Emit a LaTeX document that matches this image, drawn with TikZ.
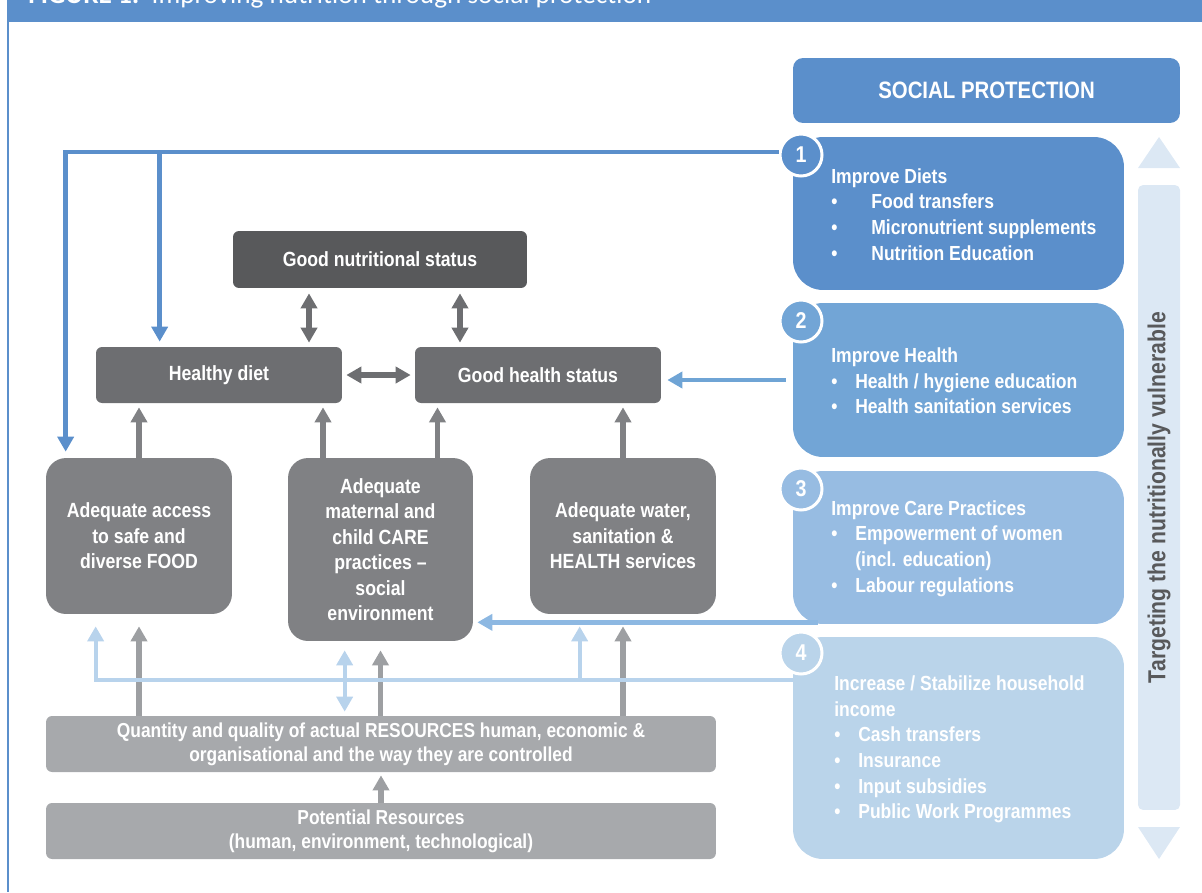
\documentclass[tikz,border=0pt]{standalone}
\usepackage{fontspec}
\setmainfont{Liberation Sans}[FakeStretch=0.86]
\newfontfamily\titlefont{Carlito}
\usepackage{tikz}
\usetikzlibrary{calc, arrows, arrows.meta, positioning}

\definecolor{spblue}{RGB}{91,143,203}
\definecolor{spblueb}{RGB}{114,165,214}
\definecolor{spbluec}{RGB}{151,188,226}
\definecolor{spblued}{RGB}{186,212,234}
\definecolor{sptarget}{RGB}{220,232,244}
\definecolor{lineb}{RGB}{111,164,213}
\definecolor{linec}{RGB}{141,184,226}
\definecolor{lined}{RGB}{184,211,236}
\definecolor{gdark}{RGB}{88,89,91}
\definecolor{gmid}{RGB}{109,110,113}
\definecolor{gbox}{RGB}{128,129,132}
\definecolor{glight}{RGB}{167,169,172}
\definecolor{garrow}{RGB}{157,159,162}

\newcommand{\spitem}[2]{\makebox[#1][l]{\textbullet}#2}

\begin{document}
\begin{tikzpicture}[x=0.02cm, y=-0.02cm,
    box/.style={rounded corners=0.12cm, text=white, align=center,
      font=\bfseries\fontsize{11.7}{14.5}\selectfont},
    bigbox/.style={box, fill=gbox, rounded corners=0.4cm, minimum width=3.72cm},
    resbox/.style={box, fill=glight, minimum width=13.4cm, minimum height=1.12cm,
      font=\bfseries\fontsize{11.5}{13.5}\selectfont},
    spbox/.style={rounded corners=0.6cm, minimum width=6.62cm},
    sptext/.style={anchor=west, inner sep=0, text=white, align=left,
      font=\bfseries\fontsize{11.6}{14.6}\selectfont},
    spnum/.style={circle, draw=white, line width=0.06cm, minimum size=0.84cm,
      inner sep=0, text=white, font=\bfseries\fontsize{13}{13}\selectfont},
    darr/.style={draw=gmid, line width=0.12cm,
      {Triangle[width=0.32cm,length=0.3cm]}-{Triangle[width=0.32cm,length=0.3cm]}},
    garr/.style={draw=gbox, line width=0.11cm, -{Triangle[width=0.32cm,length=0.3cm]}},
    rarr/.style={garr, draw=garrow},
    barr/.style={line width=0.09cm, -{Triangle[width=0.32cm,length=0.3cm]}},
    ]
  \useasboundingbox (0,0) rectangle (1202,892);
  % title bar
  \fill[spblue] (8,0) rectangle (1202,22);
  \draw[spblue, line width=0.05cm] (8,0) -- (8,892);
  \node[anchor=base west, inner sep=0, text=white, font=\titlefont\fontsize{15.5}{15.5}\selectfont]
    (title) at (28,4) {\textbf{FIGURE 1:}\ \ Improving nutrition through social protection};

  % nutrition status and its causes
  \node[box, fill=gdark, minimum width=5.88cm, minimum height=1.14cm] (gns) at (380,259.5) {Good nutritional status};
  \node[box, fill=gmid, minimum width=4.92cm, minimum height=1.12cm] (diet) at (219,375) {Healthy diet};
  \node[box, fill=gmid, minimum width=4.92cm, minimum height=1.12cm] (health) at (538,375) {Good health status};
  \node[bigbox, minimum height=3.12cm] (food) at (139,536) {Adequate access\\to safe and\\diverse FOOD};
  \node[bigbox, minimum width=3.7cm, minimum height=3.66cm] (care) at (380.5,549.5) {Adequate\\maternal and\\child CARE\\practices --\\social\\environment};
  \node[bigbox, minimum height=3.12cm] (water) at (623,536) {Adequate water,\\sanitation \&\\HEALTH services};
  \node[resbox] (res) at (381,744) {Quantity and quality of actual RESOURCES human, economic \&\\organisational and the way they are controlled};
  \node[resbox] (pot) at (381,831) {Potential Resources\\(human, environment, technological)};

  % social protection column
  \node[fill=spblue, rounded corners=0.2cm, minimum width=7.74cm, minimum height=1.3cm,
    text=white, font=\bfseries\fontsize{13.5}{13.5}\selectfont] (sp) at (986.5,90.5) {SOCIAL PROTECTION};
  \node[spbox, fill=spblue, minimum height=3.06cm] (sp1) at (958.5,213.5) {};
  \node[spbox, fill=spblueb, minimum height=3.08cm] (sp2) at (958.5,380) {};
  \node[spbox, fill=spbluec, minimum height=3.06cm] (sp3) at (958.5,547.5) {};
  \node[spbox, fill=spblued, minimum height=4.44cm] (sp4) at (958.5,748) {};
  \node[sptext] (spt1) at (831,214.5) {Improve Diets\\
    \spitem{0.8cm}{Food transfers}\\
    \spitem{0.8cm}{Micronutrient supplements}\\
    \spitem{0.8cm}{Nutrition Education}};
  \node[sptext] (spt2) at (831,381) {Improve Health\\
    \spitem{0.48cm}{Health / hygiene education}\\
    \spitem{0.48cm}{Health sanitation services}};
  \node[sptext] (spt3) at (831,548.5) {Improve Care Practices\\
    \spitem{0.48cm}{Empowerment of women}\\
    \hspace*{0.48cm}(incl. education)\\
    \spitem{0.48cm}{Labour regulations}};
  \node[sptext] (spt4) at (834,749.5) {Increase / Stabilize household\\
    income\\
    \spitem{0.48cm}{Cash transfers}\\
    \spitem{0.48cm}{Insurance}\\
    \spitem{0.48cm}{Input subsidies}\\
    \spitem{0.48cm}{Public Work Programmes}};
  \node[spnum, fill=spblue] (c1) at (801,155) {1};
  \node[spnum, fill=spblueb] (c2) at (801,321) {2};
  \node[spnum, fill=spbluec] (c3) at (801,489) {3};
  \node[spnum, fill=spblued] (c4) at (801,653) {4};

  % targeting bar
  \fill[sptarget] (1138,168) -- (1180,168) -- (1159,137) -- cycle;
  \node[fill=sptarget, rounded corners=0.1cm, rotate=90, minimum width=12.5cm, minimum height=0.84cm,
    text=gdark, font=\bfseries\fontsize{14}{14}\selectfont] (target) at (1159,497.5) {Targeting the nutritionally vulnerable};
  \fill[sptarget] (1138,827) -- (1180,827) -- (1159,859) -- cycle;

  % two-way links
  \draw[darr, shorten <=0.1cm, shorten >=0.08cm] ([xshift=-1.42cm]gns.south) -- ([xshift=-1.42cm]gns.south |- diet.north);
  \draw[darr, shorten <=0.1cm, shorten >=0.08cm] ([xshift=1.6cm]gns.south) -- ([xshift=1.6cm]gns.south |- health.north);
  \draw[darr, shorten <=0.08cm, shorten >=0.08cm] (diet) -- (health);
  % causes up
  \draw[garr, shorten >=0.08cm] (food.north) -- (food.north |- diet.south);
  \draw[garr, shorten >=0.08cm] ([xshift=-1.15cm]care.north) -- ([xshift=-1.15cm]care.north |- diet.south);
  \draw[garr, shorten >=0.08cm] ([xshift=1.14cm]care.north) -- ([xshift=1.14cm]care.north |- health.south);
  \draw[garr, shorten >=0.08cm] (water.north) -- (water.north |- health.south);
  % resources up
  \draw[rarr, shorten >=0.24cm] (res.north -| food.south) -- (food.south);
  \draw[rarr, shorten >=0.18cm] (res.north -| care.south) -- (care.south);
  \draw[rarr, shorten >=0.24cm] (res.north -| water.south) -- (water.south);
  \draw[rarr, shorten >=0.06cm] (pot.north) -- (res.south);

  % social protection links
  \coordinate (c1up) at ([yshift=0.06cm]c1.west);
  \coordinate (foodin) at ([xshift=0.4cm]food.north west);
  \coordinate (dietin) at ([xshift=1.28cm]diet.north west);
  \draw[barr, spblue, shorten >=0.12cm] (c1up) -| (foodin);
  \draw[barr, spblue, shorten >=0.1cm] (dietin |- c1up) -- (dietin);
  \draw[barr, lineb, shorten <=0.14cm, shorten >=0.12cm] (sp2.west) -- (sp2.west -| health.east);
  \coordinate (c3a) at ([xshift=0.5cm, yshift=0.04cm]sp3.south west);
  \draw[barr, linec, shorten >=0.08cm] (c3a) -- (c3a -| care.east);
  \coordinate (c4a) at ([yshift=1.36cm]sp4.west);
  \coordinate (foodlo) at ([xshift=1.0cm]food.south west);
  \coordinate (waterlo) at ([xshift=1.0cm]water.south west);
  \coordinate (carelo) at ([xshift=1.14cm]care.south west);
  \draw[barr, lined, line width=0.08cm, shorten >=0.24cm] (c4a) -| (foodlo);
  \draw[barr, lined, line width=0.08cm, shorten >=0.24cm] (c4a -| waterlo) -- (waterlo);
  \draw[barr, lined, line width=0.08cm, {Triangle[width=0.32cm,length=0.3cm]}-{Triangle[width=0.32cm,length=0.3cm]},
    shorten <=0.18cm, shorten >=0.08cm] (carelo) -- (carelo |- res.north);
\end{tikzpicture}
\end{document}
